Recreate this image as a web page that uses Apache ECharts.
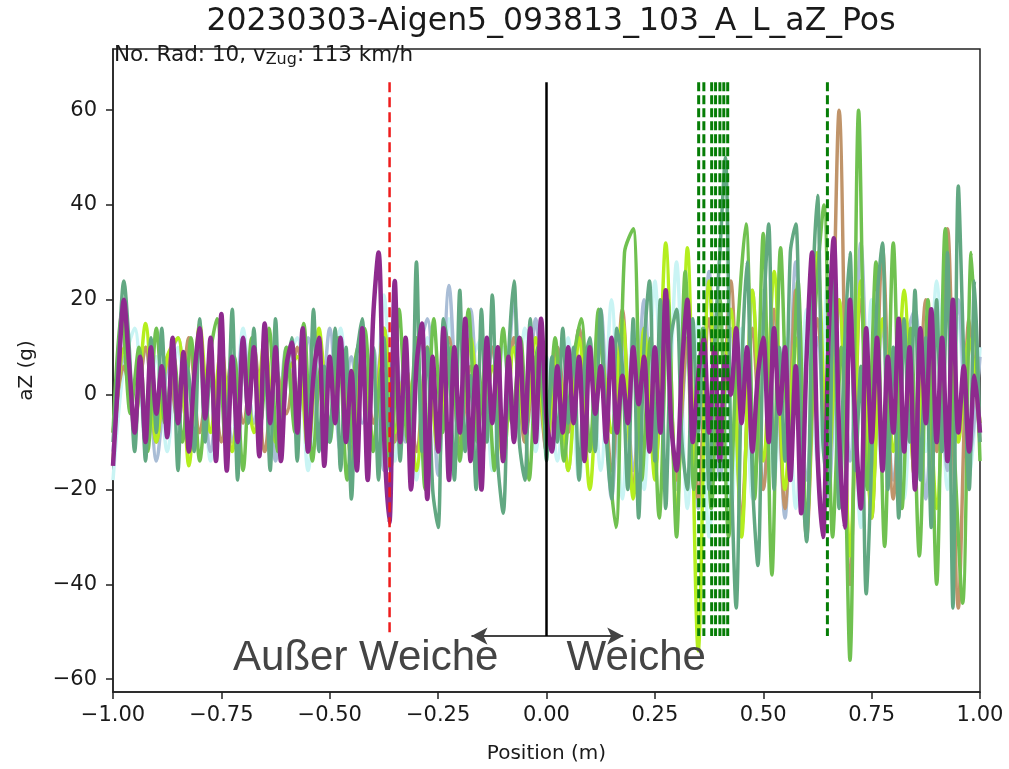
<!DOCTYPE html>
<html>
<head>
<meta charset="utf-8">
<script src="https://cdn.jsdelivr.net/npm/echarts@6/dist/echarts.min.js"></script>
<style>
html,body{margin:0;padding:0;background:#fff;}
#chart{width:1009px;height:769px;}
</style>
</head>
<body>
<div id="chart"></div>
<script>
// ---------------- data ----------------
const titleText = "20230303-Aigen5_093813_103_A_L_aZ_Pos";
const xTickLabels = [-1.00, -0.75, -0.50, -0.25, 0.00, 0.25, 0.50, 0.75, 1.00];
const yTickValues = [-60, -40, -20, 0, 20, 40, 60];

// sample grids (position in m): start, step
const fineStart = -1, fineStep = 0.0125;   // 161 samples
const midStart = -1, midStep = 0.02;       // 101 samples
const coarseStart = -1, coarseStep = 0.025; // 81 samples

const purpleValues = [
 -15, 4, 20, 6, -8, 8, -10, 10, -4, 6,
 -9, 12, -6, 9, -12, 4, 14, -5, 12, -14,
 17, -16, 8, -10, 12, -4, 10, -13, 15, -6,
 10, -14, 6, 11, -8, 14, -12, 4, 12, -15,
 8, -6, 12, -10, 5, -16, 14, -18, 16, 30,
 -8, -27, 24, -10, 12, -20, 6, 15, -22, 8,
 -12, 14, -18, 10, -8, 16, -14, 6, -20, 12,
 -6, 10, -14, 8, -10, 12, -8, 14, -10, 16,
 -5, -12, 6, -8, 10, -6, 8, -14, 10, -4,
 6, -10, 12, -8, 4, -6, 10, -2, 8, -12,
 10, -8, 22, -6, -16, 6, 20, -10, 4, 12,
 -8, 10, -14, 8, 0, 14, -6, 10, -12, 4,
 12, -10, 14, -4, 10, -18, 6, -25, 8, 30,
 -12, -30, 10, 33, -8, -28, 20, -6, -24, 14,
 -10, 12, -16, 8, -8, 16, -12, 10, -20, 14,
 -6, 18, -10, 12, -14, 20, -8, 6, -12, 4, -8
];
const tealValues = [
 -10, 8, 24, 10, -12, 6, -14, 12, -8, 14,
 -6, 10, -16, 8, 4, -12, 16, -10, 6, -14,
 12, -8, 18, -18, 10, -6, 14, -12, 8, -16,
 16, -10, 4, 12, -14, 10, -8, 18, -12, 6,
 -10, 14, -16, 10, -22, 8, 16, -14, 10, -18,
 12, -8, 20, -14, 6, -16, 28, -12, 10, -20,
 -28, 16, 8, -18, 22, -12, 4, -20, 18, -10,
 21, -14, -25, 8, 24, -10, -18, 16, -6, 12,
 -14, 8, -10, 14, -6, 10, -18, 6, 12, -12,
 18, -8, -22, 14, 6, -20, 16, -26, 10, 24,
 -14, 20, -24, 12, 18, -10, -20, 16, -8, 14,
 -20, 10, 30, 50, -10, -45, 4, 28, -18, -36,
 14, 36, -20, 10, -14, 30, 36, -12, -31, 18,
 42, -10, -20, 26, -24, 10, 30, -16, 6, -42,
 -14, 20, 32, -20, 10, -26, 16, -10, 22, -18,
 12, -28, 20, -12, 30, -45, 44, 8, -20, 24, -10
];
const greenValues = [
 -8, 18, -4, 10, -12, 14, -6, 8, -10, 12,
 -14, 6, 16, -10, 8, -16, 12, -6, 14, -12,
 10, -8, 15, -14, 6, -10, 12, -18, 8, 14,
 -12, 6, -16, 18, -10, 12, -20, 16, -8, 10,
 -14, 18, -10, 8, -16, 14, -6, 12, -18, 10,
 -8, 12, -14, 6, 16, -12, 18, -10, -28, 30,
 35, -18, 12, -26, 20, -30, 26, -20, 14, -24,
 20, -30, 12, 36, -22, 34, -38, 31, -16, 24,
 -28, 18, 40, -30, 10, -56, 60, -20, 28, -32,
 32, -24, 14, -34, 20, -40, 35, -10, -44, 30,
 -14
];
const limeValues = [
 -14, 10, -6, 15, -10, 8, 12, -15, 15, -8,
 10, -12, 6, -8, 12, -10, 4, 8, -12, 14,
 -6, 10, -14, 8, -10, 14, -8, 6, -16, 10,
 -12, 8, -6, 12, -10, 6, -14, 10, -8, 12,
 -10, 8, -16, 12, -20, 10, -8, 16, -22, 14,
 -18, 32, -25, 31, -54, 24, -10, 18, -30, 22,
 -14, 26, -20, 12, -28, 30, -16, 20, -34, 24,
 -26, 16, -12, 22, -18, 10, -24, 18, -10, 12,
 -6
];
const cyanValues = [
 -18, 6, 14, -10, 8, -12, 10, -6, 12, -14,
 8, -10, 14, -6, 10, -12, 6, 12, -16, 8,
 -10, 14, -8, 10, -12, 21, -14, 8, -18, 12,
 -10, 16, -14, 6, 12, -16, 10, -8, 14, -12,
 8, -14, 12, -18, 10, -16, 20, -22, 14, -20,
 24, -18, 28, -24, 16, -30, 20, -26, 14, -22,
 22, -18, 12, -24, 18, -14, 26, -20, 14, -28,
 20, -16, 10, -22, 18, -12, 24, -20, 16, -18,
 10
];
const blueGrayValues = [
 -12, 8, -4, 10, -14, 6, 12, -8, 10, -12,
 6, -10, 12, -6, 8, -14, 10, -4, 12, -10,
 14, -12, 8, -6, 10, -16, 12, -10, 6, 16,
 -17, 23, -12, 18, -14, 10, -8, 20, -10, 16,
 -12, 10, -16, 14, -10, 18, -22, 12, -16, 20,
 -14, 18, -20, 10, -24, 26, -18, 14, -28, 22,
 -20, 16, -26, 28, -18, 12, -22, 20, -14, 32,
 -24, 14, -18, 10, 18, -22, 12, -16, 20, -14,
 8
];
const tanValues = [
 -8, 6, -4, 10, -10, 8, -6, 12, -8, 6,
 -10, 8, -6, 10, -12, 6, -4, 10, -8, 12,
 -6, 10, -12, 8, -6, 14, -10, 6, -12, 10,
 -8, 12, -10, 6, -14, 10, -6, 12, -10, 8,
 -12, 10, -8, 14, -10, 6, -16, 18, -20, 12,
 -16, 20, -18, 12, -22, 16, -10, 24, -26, 14,
 -20, 18, -24, 22, -30, 16, -12, 60, -40, 20,
 -26, 31, -22, 14, -18, 20, -12, 35, -45, 16,
 -10
];

// vertical marker lines (position in m)
const redLinePositions = [-0.362];
const blackLinePositions = [0];
const greenLinePositions = [0.351, 0.363, 0.381, 0.390, 0.400, 0.409, 0.418, 0.648];
const markerTop = 65.9, markerBottom = -50.9;
// annotations
const arrowFrom = -0.173, arrowTo = 0.177, arrowLevel = -50.9;
const labelLeft = {text: "Außer Weiche", x: -0.417, y: -55.6};
const labelRight = {text: "Weiche", x: 0.207, y: -55.6};
const infoText = ["No. Rad: 10, v", "Zug", ": 113 km/h"];

// ---------------- build ----------------
function pairs(start, step, vals) {
  return vals.map((v, i) => [+(start + i * step).toFixed(4), v]);
}
const minus = v => (v < 0 ? "\u2212" : "") + Math.abs(v);
const FONT = "DejaVu Sans";

function dataLine(name, vals, start, step, color, width, z) {
  return {
    name, type: "line", data: pairs(start, step, vals), showSymbol: false, symbol: "none",
    smooth: 0.3, lineStyle: {color, width}, z, silent: true, clip: true
  };
}
function vLine(x, color, dash, width, z) {
  return {
    type: "line", data: [[x, markerTop], [x, markerBottom]], showSymbol: false, symbol: "none",
    lineStyle: {color, width, type: dash}, z, silent: true
  };
}

const series = [
  dataLine("cyan", cyanValues, coarseStart, coarseStep, "#c9f4f4", 3.5, 2),
  dataLine("bluegray", blueGrayValues, coarseStart, coarseStep, "#a9bdd6", 3.5, 2),
  dataLine("tan", tanValues, coarseStart, coarseStep, "#c0946a", 3.5, 2),
  dataLine("lime", limeValues, coarseStart, coarseStep, "#b4ee1e", 3.5, 2),
  dataLine("green", greenValues, midStart, midStep, "#70c150", 3.5, 2),
  dataLine("teal", tealValues, fineStart, fineStep, "#62a882", 3.5, 2),
  dataLine("purple", purpleValues, fineStart, fineStep, "#8e2a8e", 4.5, 3)
];
redLinePositions.forEach(x => series.push(vLine(x, "#ee1c1c", [10, 5], 2.5, 5)));
greenLinePositions.forEach(x => series.push(vLine(x, "#067d06", [9, 4], 3, 5)));
blackLinePositions.forEach(x => {
  const s = vLine(x, "#000000", "solid", 2.5, 5);
  s.markLine = {
    silent: true, symbol: ["arrow", "arrow"], symbolSize: [13, 16], animation: false,
    lineStyle: {color: "#444444", width: 2, type: "solid"}, label: {show: false},
    data: [[{coord: [arrowFrom, arrowLevel]}, {coord: [arrowTo, arrowLevel]}]]
  };
  s.markPoint = {
    silent: true, symbol: "circle", symbolSize: 0, animation: false,
    label: {show: true, position: "inside", fontFamily: "Liberation Sans", fontSize: 42, color: "#444444"},
    data: [labelLeft, labelRight].map(l => ({coord: [l.x, l.y], label: {formatter: l.text}}))
  };
  series.push(s);
});

const chart = echarts.init(document.getElementById("chart"));
chart.setOption({
  animation: false,
  textStyle: {fontFamily: FONT},
  title: [{
    text: titleText, left: 546, top: 1, textAlign: "center",
    textStyle: {fontFamily: FONT, fontSize: 31.5, fontWeight: "normal", color: "#1a1a1a"}
  }, {
    text: "{a|" + infoText[0] + "}{s|" + infoText[1] + "}{a|" + infoText[2] + "}",
    left: 114, top: 42, padding: 0,
    textStyle: {
      fontWeight: "normal",
      rich: {
        a: {fontFamily: FONT, fontSize: 21.5, fontWeight: "normal", color: "#1a1a1a", lineHeight: 26},
        s: {fontFamily: FONT, fontSize: 16, fontWeight: "normal", color: "#1a1a1a", lineHeight: 16, verticalAlign: "bottom"}
      }
    }
  }],
  grid: {left: 113, right: 29, top: 49, bottom: 77, show: true, borderColor: "#222", borderWidth: 1.5},
  xAxis: {
    type: "value", min: -1, max: 1, interval: 0.25,
    name: "Position (m)", nameLocation: "middle", nameGap: 52,
    nameTextStyle: {fontFamily: FONT, fontSize: 20, color: "#1a1a1a"},
    axisLine: {show: true, onZero: false, lineStyle: {color: "#222", width: 1.5}},
    axisTick: {show: true, inside: false, length: 7, lineStyle: {color: "#222", width: 1.5}},
    axisLabel: {
      fontFamily: FONT, fontSize: 21, color: "#1a1a1a", margin: 13,
      formatter: v => {
        const m = xTickLabels.find(t => Math.abs(t - v) < 1e-6);
        return m === undefined ? "" : (m < 0 ? "\u2212" : "") + Math.abs(m).toFixed(2);
      }
    },
    splitLine: {show: false}
  },
  yAxis: {
    type: "value", min: -62.7, max: 72.9,
    name: "aZ (g)", nameLocation: "middle", nameGap: 76, nameRotate: 90,
    nameTextStyle: {fontFamily: FONT, fontSize: 20, color: "#1a1a1a"},
    axisLine: {show: true, onZero: false, lineStyle: {color: "#222", width: 1.5}},
    axisTick: {show: true, inside: false, length: 7, customValues: yTickValues, lineStyle: {color: "#222", width: 1.5}},
    axisLabel: {
      fontFamily: FONT, fontSize: 21, color: "#1a1a1a", margin: 16,
      customValues: yTickValues, formatter: v => minus(v)
    },
    splitLine: {show: false}
  },
  series
});
</script>
</body>
</html>
